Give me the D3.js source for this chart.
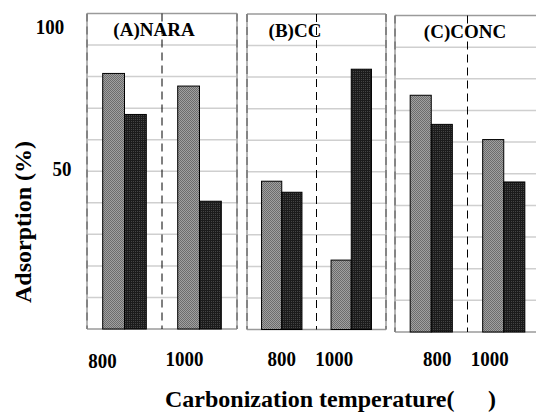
<!DOCTYPE html>
<html>
<head>
<meta charset="utf-8">
<script src="https://cdn.jsdelivr.net/npm/d3@7"></script>
</head>
<body style="margin:0;background:#fff">
<div id="chart"></div>
<script>
//Chart data
var panels = ["(A)NARA", "(B)CC", "(C)CONC"];
var temps = ["800", "1000"];
var series = ["gray", "dark"];
var grayValues = [[81, 77], [47, 22], [74.8, 60.8]];
var darkValues = [[68, 40.5], [43.5, 82.5], [65.6, 47.4]];
var yTickLabels = [100, 50];

//Panel layout (pixels)
var layout = [
    {x0: 87, x1: 237, top: 13.5, bottom: 329, titleX: 154, labelDx: [-22, -15], labelY: [368, 366]},
    {x0: 247, x1: 386, top: 14, bottom: 329.5, titleX: 295, labelDx: [0, -17], labelY: [366, 366]},
    {x0: 395, x1: 540, top: 15.5, bottom: 332, titleX: 465, labelDx: [6, -14], labelY: [366, 366]}
];

var svgWidth = 536;
var svgHeight = 416;
var FONT = "'Liberation Serif'";

var svg = d3.select("#chart")
    .append("svg")
    .attr("width", svgWidth)
    .attr("height", svgHeight)
    .style("display", "block");

//Helper for bold serif text
function addText(sel, size) {
    return sel.append("text")
        .style("font-family", FONT)
        .style("font-weight", "bold")
        .style("font-size", size + "px")
        .attr("fill", "#000");
}

//Squeeze digits horizontally like the original
function condense(t, k) {
    var w = t.node().getComputedTextLength();
    t.attr("textLength", w * k).attr("lengthAdjust", "spacingAndGlyphs");
    return t;
}

//Fill patterns for the bars (fine dither)
var defs = svg.append("defs");
var pGray = defs.append("pattern")
    .attr("id", "pGray")
    .attr("width", 2).attr("height", 2)
    .attr("patternUnits", "userSpaceOnUse");
pGray.append("rect").attr("width", 2).attr("height", 2).attr("fill", "#a0a0a0");
pGray.append("rect").attr("x", 0).attr("y", 0).attr("width", 1).attr("height", 1).attr("fill", "#6c6c6c");
pGray.append("rect").attr("x", 1).attr("y", 1).attr("width", 1).attr("height", 1).attr("fill", "#6c6c6c");
var pDark = defs.append("pattern")
    .attr("id", "pDark")
    .attr("width", 2).attr("height", 2)
    .attr("patternUnits", "userSpaceOnUse");
pDark.append("rect").attr("width", 2).attr("height", 2).attr("fill", "#1c1c1c");
pDark.append("rect").attr("x", 1).attr("y", 1).attr("width", 1).attr("height", 1).attr("fill", "#444");
var fills = {gray: "url(#pGray)", dark: "url(#pDark)"};

panels.forEach((name, p) => {
    var L = layout[p];
    var g = svg.append("g");

    var yScale = d3.scaleLinear().domain([0, 100]).range([L.bottom, L.top]);
    var xScale = d3.scaleBand().domain(temps).range([L.x0, L.x1]).padding(0);
    var xSeries = d3.scaleBand().domain(series).range([0, xScale.bandwidth()])
        .paddingInner(0).paddingOuter(0.72);

    //Gridlines
    g.selectAll(".grid")
        .data(yScale.ticks(10).filter(t => t > 0 && t < 100))
        .enter()
        .append("line")
        .attr("x1", L.x0).attr("x2", Math.min(L.x1, svgWidth))
        .attr("y1", d => yScale(d)).attr("y2", d => yScale(d))
        .attr("stroke", "#cfcfcf")
        .attr("stroke-width", 1.5);

    //Panel frame: top and bottom solid, sides gray with dashes
    g.append("line")
        .attr("x1", L.x0).attr("x2", L.x1)
        .attr("y1", L.top).attr("y2", L.top)
        .attr("stroke", "#9a9a9a").attr("stroke-width", 1.5);
    g.append("line")
        .attr("x1", L.x0).attr("x2", L.x1)
        .attr("y1", L.bottom).attr("y2", L.bottom)
        .attr("stroke", "#9a9a9a").attr("stroke-width", 1.5);
    [L.x0, L.x1].forEach(x => {
        g.append("line")
            .attr("x1", x).attr("x2", x)
            .attr("y1", L.top).attr("y2", L.bottom)
            .attr("stroke", "#b5b5b5").attr("stroke-width", 2);
        g.append("line")
            .attr("x1", x).attr("x2", x)
            .attr("y1", L.top).attr("y2", L.bottom)
            .attr("stroke", "#555").attr("stroke-width", 1)
            .attr("stroke-dasharray", "8,5");
    });

    //Bars
    var rows = [];
    temps.forEach((t, i) => {
        rows.push({temp: t, s: "gray", v: grayValues[p][i]});
        rows.push({temp: t, s: "dark", v: darkValues[p][i]});
    });
    g.selectAll(".bar")
        .data(rows)
        .enter()
        .append("rect")
        .attr("x", d => xScale(d.temp) + xSeries(d.s))
        .attr("y", d => yScale(d.v))
        .attr("width", xSeries.bandwidth())
        .attr("height", d => yScale(0) - yScale(d.v))
        .attr("fill", d => fills[d.s])
        .attr("stroke", "#000")
        .attr("stroke-width", 1);

    //Panel title
    addText(g, 19)
        .attr("x", L.titleX)
        .attr("y", L.top + 22.5)
        .attr("text-anchor", "middle")
        .text(name);

    //Middle dashed divider drawn over the title
    g.append("line")
        .attr("x1", L.x0 + (L.x1 - L.x0) / 2).attr("x2", L.x0 + (L.x1 - L.x0) / 2)
        .attr("y1", L.top).attr("y2", L.bottom)
        .attr("stroke", "#000").attr("stroke-width", 1)
        .attr("stroke-dasharray", "8,5");

    //Temperature labels
    temps.forEach((t, i) => {
        var lbl = addText(g, 22)
            .attr("x", xScale(t) + xScale.bandwidth() / 2 + L.labelDx[i])
            .attr("y", L.labelY[i])
            .attr("text-anchor", "middle")
            .text(t);
        condense(lbl, 0.86);
    });

    //Y tick labels on the first panel
    if (p === 0) {
        var yLabelOffset = {100: {x: 50, dy: 20}, 50: {x: 62, dy: 5}};
        yTickLabels.forEach(v => {
            var lbl = addText(g, 21)
                .attr("x", yLabelOffset[v].x)
                .attr("y", yScale(v) + yLabelOffset[v].dy)
                .attr("text-anchor", "middle")
                .text(v);
            condense(lbl, 0.9);
        });
    }
});

//Axis titles
addText(svg, 24)
    .attr("transform", "translate(31, 222) rotate(-90)")
    .attr("text-anchor", "middle")
    .text("Adsorption (%)");

var xTitle = addText(svg, 24)
    .attr("x", 165)
    .attr("y", 407);
xTitle.append("tspan").text("Carbonization temperature(");
xTitle.append("tspan").attr("x", 488).text(")");
</script>
</body>
</html>
